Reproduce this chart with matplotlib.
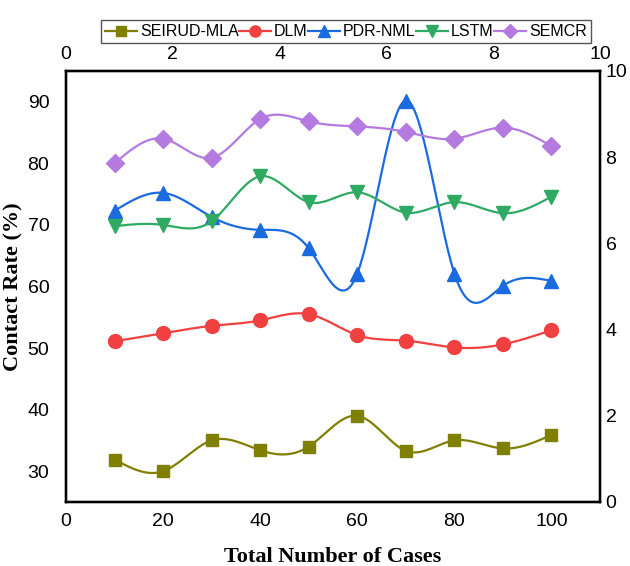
import matplotlib
matplotlib.use('Agg')
import matplotlib.pyplot as plt
import numpy as np

plt.rcParams['font.family'] = ['Liberation Sans', 'DejaVu Sans']

# data
cases = [10, 20, 30, 40, 50, 60, 70, 80, 90, 100]
seirud_mla = [31.9, 30.0, 35.0, 33.4, 34.0, 39.0, 33.3, 35.0, 33.7, 35.9]
dlm = [51.1, 52.4, 53.6, 54.5, 55.5, 52.1, 51.2, 50.1, 50.6, 52.9]
pdr_nml = [72.3, 75.2, 71.3, 69.2, 66.2, 62.1, 90.2, 62.1, 60.1, 60.9]
lstm = [69.8, 70.0, 70.6, 77.9, 73.7, 75.3, 72.0, 73.7, 71.9, 74.6]
semcr = [80.0, 84.0, 80.9, 87.2, 86.8, 86.0, 85.1, 84.0, 85.8, 82.8]

names = ['SEIRUD-MLA', 'DLM', 'PDR-NML', 'LSTM', 'SEMCR']
series = [seirud_mla, dlm, pdr_nml, lstm, semcr]
colors = ['#808000', '#F04040', '#1A6BE0', '#2EAA62', '#B47AE0']
markers = ['s', 'o', '^', 'v', 'D']
msizes = [9, 10, 10, 10, 9]


def spline(x, y, n=300):
    # natural cubic spline through the points
    x = np.asarray(x, float)
    y = np.asarray(y, float)
    k = len(x)
    h = np.diff(x)
    A = np.zeros((k, k))
    b = np.zeros(k)
    A[0, 0] = 1
    A[-1, -1] = 1
    for i in range(1, k - 1):
        A[i, i - 1] = h[i - 1]
        A[i, i] = 2 * (h[i - 1] + h[i])
        A[i, i + 1] = h[i]
        b[i] = 6 * ((y[i + 1] - y[i]) / h[i] - (y[i] - y[i - 1]) / h[i - 1])
    M = np.linalg.solve(A, b)
    xs = np.linspace(x[0], x[-1], n)
    idx = np.clip(np.searchsorted(x, xs) - 1, 0, k - 2)
    x0, x1 = x[idx], x[idx + 1]
    hh = x1 - x0
    t0 = x1 - xs
    t1 = xs - x0
    ys = (M[idx] * t0**3 + M[idx + 1] * t1**3) / (6 * hh) \
        + (y[idx] / hh - M[idx] * hh / 6) * t0 \
        + (y[idx + 1] / hh - M[idx + 1] * hh / 6) * t1
    return xs, ys


fig = plt.figure(figsize=(6.3, 5.66), dpi=100)
ax = fig.add_axes([0.1048, 0.1131, 0.8476, 0.7615])

handles = []
for name, vals, c, m, ms in zip(names, series, colors, markers, msizes):
    xs, ys = spline(cases, vals)
    ax.plot(xs, ys, color=c, lw=1.6)
    ax.plot(cases, vals, ls='none', marker=m, color=c, ms=ms)
    h, = ax.plot([], [], color=c, lw=1.6, marker=m, ms=ms)
    handles.append(h)

ax.set_xlim(0, 110)
ax.set_ylim(25, 95)
ax.set_xticks([0, 20, 40, 60, 80, 100])
ax.set_yticks([30, 40, 50, 60, 70, 80, 90])
ax.tick_params(axis='x', length=0, labelsize=14, pad=8)
ax.tick_params(axis='y', length=0, labelsize=14, pad=12)
for s in ax.spines.values():
    s.set_linewidth(1.6)

ax.set_xlabel('Total Number of Cases', family='Liberation Serif',
              fontweight='bold', fontsize=16, labelpad=12)
ax.set_ylabel('Contact Rate (%)', family='Liberation Serif',
              fontweight='bold', fontsize=16, labelpad=3)

# secondary axes
axt = ax.twiny()
axt.set_xlim(0, 10)
axt.set_xticks([0, 2, 4, 6, 8, 10])
axt.tick_params(length=0, labelsize=14, pad=6)

axr = ax.twinx()
axr.set_ylim(0, 10)
axr.set_yticks([0, 2, 4, 6, 8, 10])
axr.tick_params(length=0, labelsize=14, pad=4)
for a in (axt, axr):
    for s in a.spines.values():
        s.set_linewidth(1.6)

fig.legend(handles, names, loc='center', bbox_to_anchor=(0.549, 0.944),
           ncol=5, fontsize=11.5, columnspacing=0.0, handletextpad=0.2,
           handlelength=2.0, markerscale=0.8, borderpad=0.25, fancybox=False,
           edgecolor='#555555', framealpha=1)

fig.savefig('out.png', dpi=100)
